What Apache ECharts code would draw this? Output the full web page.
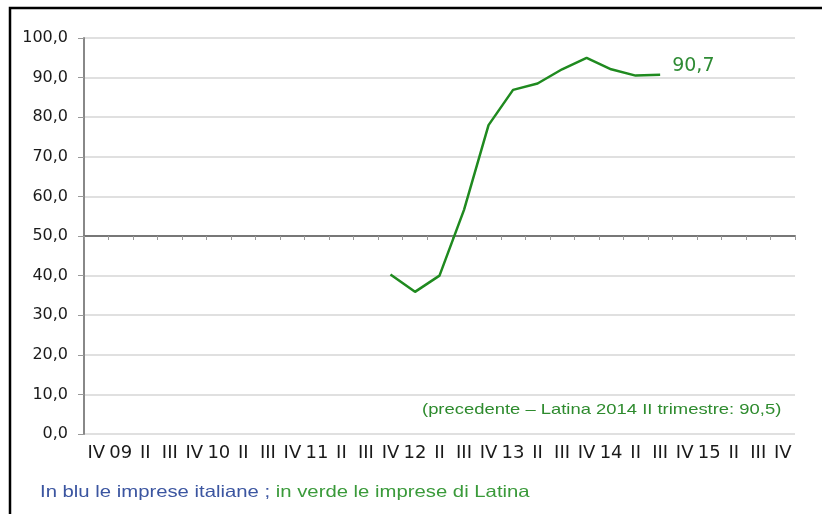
<!DOCTYPE html>
<html>
<head>
<meta charset="utf-8">
<script src="https://cdn.jsdelivr.net/npm/echarts@6/dist/echarts.min.js"></script>
<style>
html,body{margin:0;padding:0;background:#fff;}
#c{width:822px;height:514px;}
</style>
</head>
<body>
<div id="c"></div>
<script>
var categories = ['IV','09','II','III','IV','10','II','III','IV','11','II','III','IV','12','II','III','IV','13','II','III','IV','14','II','III','IV','15','II','III','IV'];
var latinaValues = [null,null,null,null,null,null,null,null,null,null,null,null,40.3,35.9,40.0,56.6,78.0,86.9,88.5,92.1,95.0,92.1,90.5,90.7,null,null,null,null,null];
var yTicks = [0,10,20,30,40,50,60,70,80,90,100];
var lastLabel = '90,7';
var noteText = '(precedente \u2013 Latina 2014 II trimestre: 90,5)';
var legendBlue = 'In blu le imprese italiane ;';
var legendGreen = ' in verde le imprese di Latina';

var FONT = '"Liberation Sans", Arial, Helvetica, sans-serif';
var WFONT = '"DejaVu Sans", Verdana, sans-serif';
var lastIdx = 23;

var chart = echarts.init(document.getElementById('c'));
chart.setOption({
  animation: false,
  backgroundColor: '#fff',
  grid: {left: 84, right: 27, top: 38, bottom: 80, containLabel: false},
  xAxis: [{
    type: 'category', data: categories, boundaryGap: true,
    axisLine: {show: false}, axisTick: {show: false},
    axisLabel: {color: '#1a1a1a', fontSize: 18, fontFamily: WFONT, margin: 10, interval: 0}
  },{
    type: 'category', data: categories, boundaryGap: true, position: 'bottom', offset: -198,
    axisLine: {show: true, onZero: false, lineStyle: {color: '#777', width: 2}},
    axisTick: {show: true, inside: false, length: 4, lineStyle: {color: '#999', width: 1}},
    axisLabel: {show: false}
  }],
  yAxis: {
    type: 'value', min: 0, max: 100, interval: 10,
    axisLine: {show: true, lineStyle: {color: '#888', width: 2}},
    axisTick: {show: true, length: 6, lineStyle: {color: '#999', width: 1}},
    axisLabel: {color: '#1a1a1a', fontSize: 16, fontFamily: WFONT, margin: 16,
      formatter: function(v){ return v.toFixed(1).replace('.', ','); }},
    splitLine: {show: true, lineStyle: {color: '#e0e0e0', width: 2}}
  },
  series: [{
    type: 'line', xAxisIndex: 0, data: latinaValues,
    showSymbol: false, symbol: 'none',
    connectNulls: false,
    lineStyle: {color: '#1f8a1f', width: 2.5},
    itemStyle: {color: '#1f8a1f'},
    markPoint: {
      symbol: 'circle', symbolSize: 0.01, silent: true,
      itemStyle: {color: '#1f8a1f'},
      label: {show: true, position: 'right', distance: 12, offset: [0, -9],
        formatter: function(){ return lastLabel; }, color: '#2e8b34', fontSize: 19, fontFamily: WFONT},
      data: [{coord: [lastIdx, latinaValues[lastIdx]]}]
    }
  }],
  graphic: [
    {type: 'polyline', shape: {points: [[10, 514], [10, 8], [822, 8]]}, style: {stroke: '#000', lineWidth: 2.5, fill: null}},
    {type: 'text', x: 422, y: 410, scaleX: 1.27, style: {text: noteText, fill: '#2e8b2e', font: '14.5px ' + FONT, textVerticalAlign: 'middle'}},
    {type: 'text', x: 40, y: 492, scaleX: 1.23, style: {
      text: '{b|' + legendBlue + '}{g|' + legendGreen + '}',
      textVerticalAlign: 'middle',
      rich: {
        b: {fill: '#3b55a0', fontSize: 16.5, fontFamily: FONT},
        g: {fill: '#3a9a3a', fontSize: 16.5, fontFamily: FONT}
      }
    }}
  ]
});
</script>
</body>
</html>
